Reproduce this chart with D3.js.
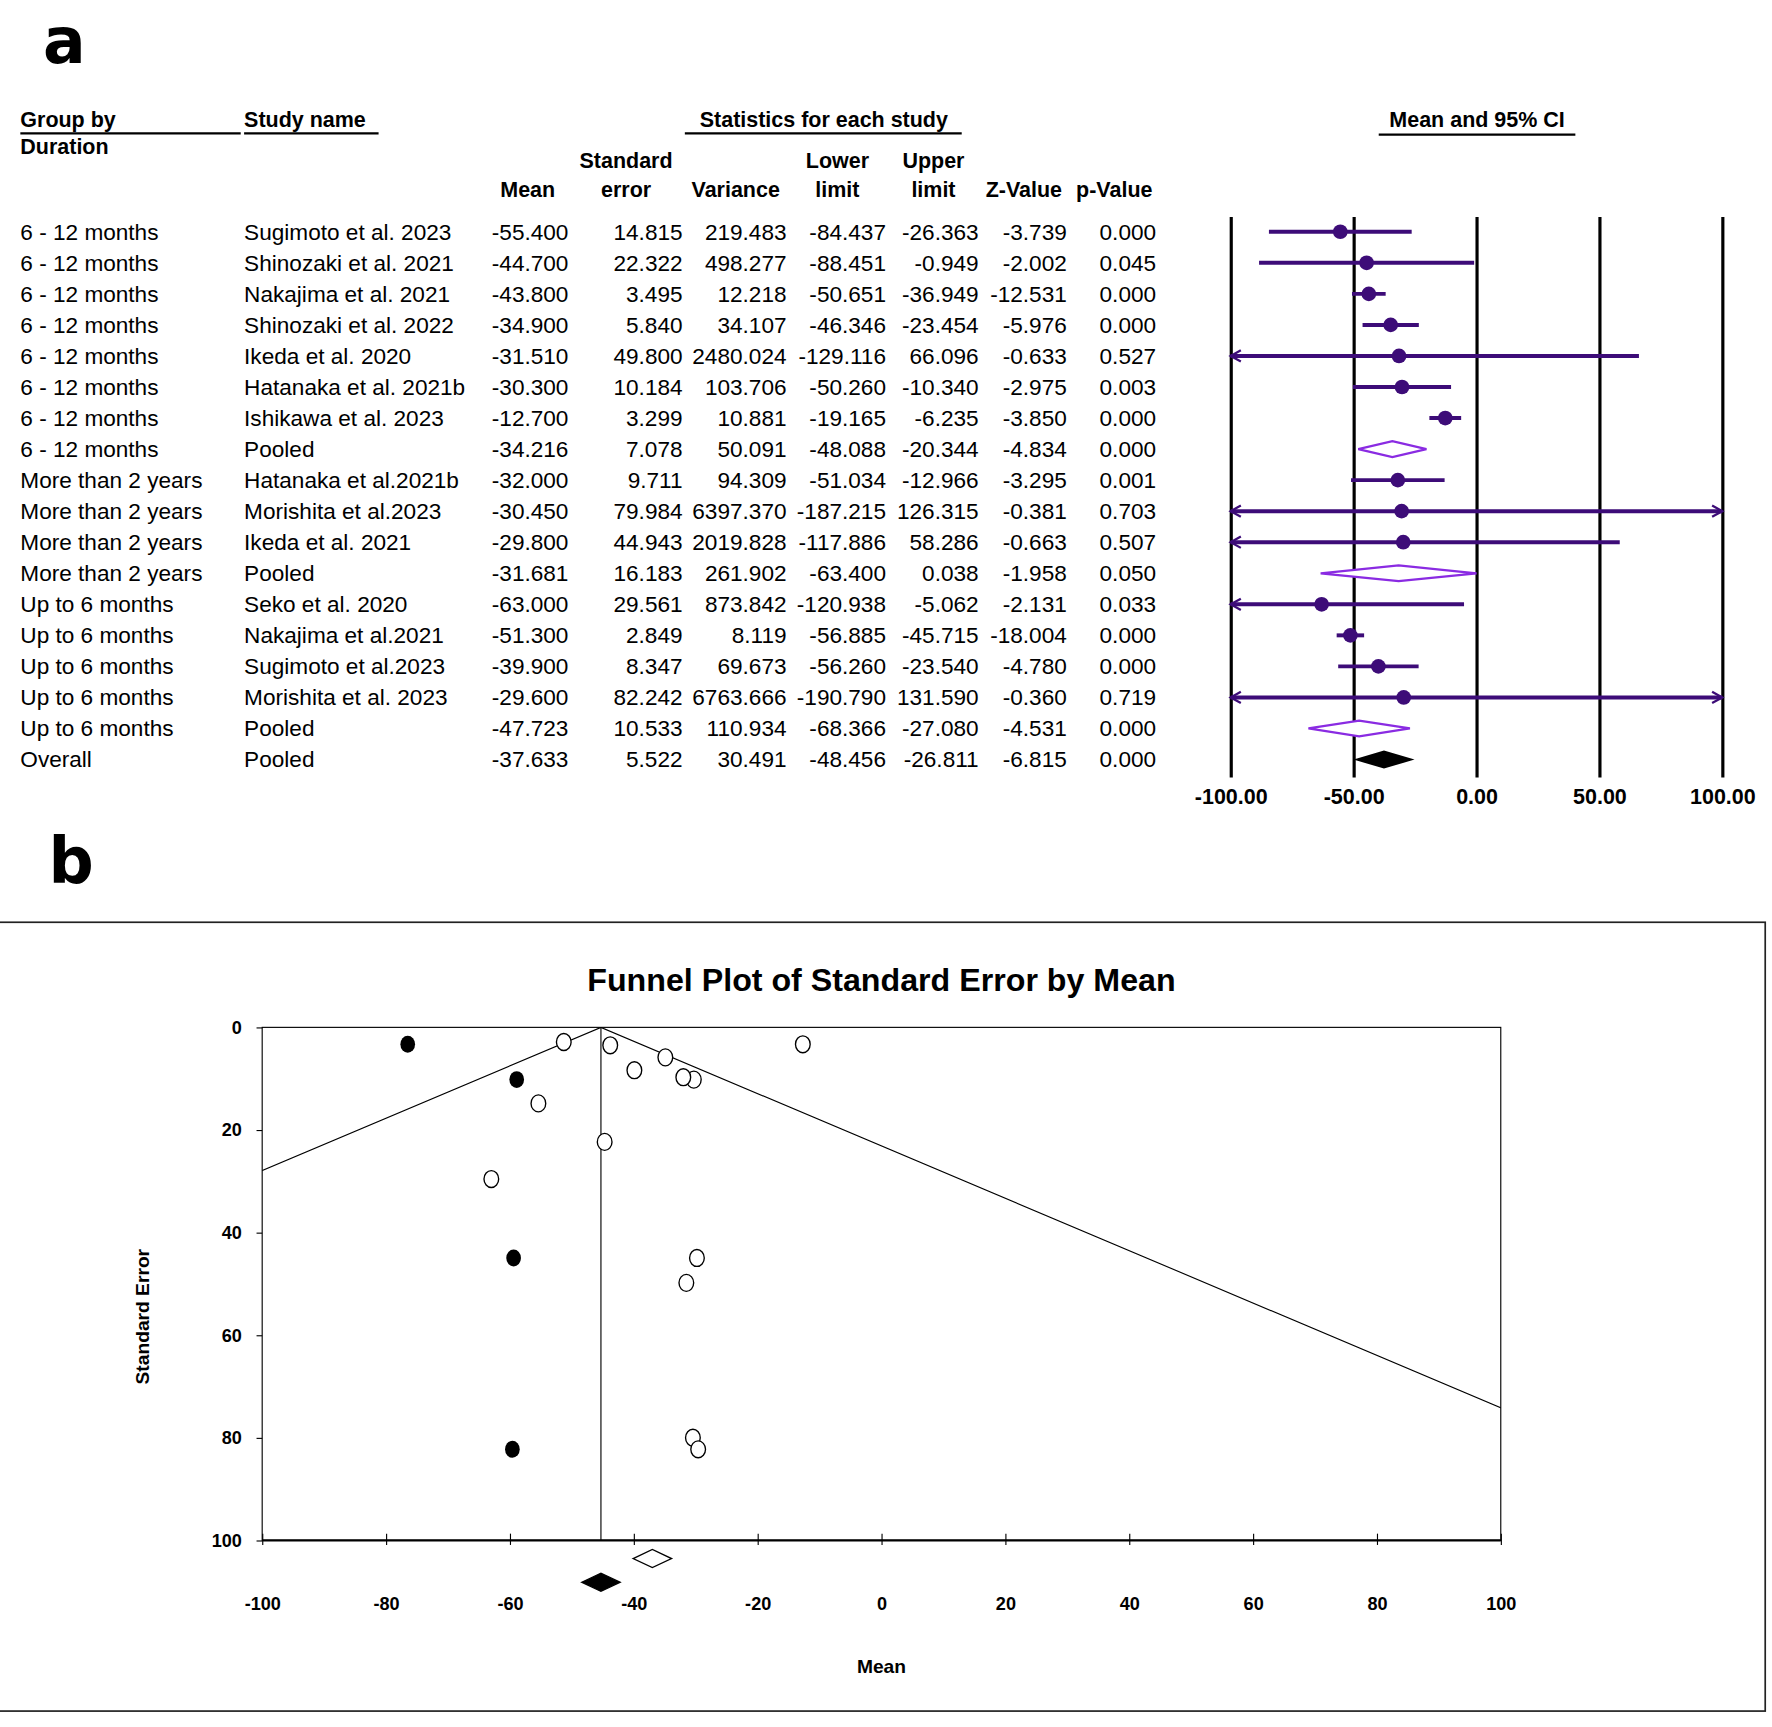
<!DOCTYPE html>
<html>
<head>
<meta charset="utf-8">
<script src="https://cdn.jsdelivr.net/npm/d3@7"></script>
<style>
body { margin: 0; background: #fff; }
svg { display: block; }
text { font-family: Arial, "Liberation Sans", sans-serif; }
</style>
</head>
<body>
<div id="chart"></div>
<script>
// Table rows of the forest plot (panel a)
var groups = ["6 - 12 months", "6 - 12 months", "6 - 12 months", "6 - 12 months", "6 - 12 months",
    "6 - 12 months", "6 - 12 months", "6 - 12 months", "More than 2 years", "More than 2 years",
    "More than 2 years", "More than 2 years", "Up to 6 months", "Up to 6 months", "Up to 6 months",
    "Up to 6 months", "Up to 6 months", "Overall"];
var studies = ["Sugimoto et al. 2023", "Shinozaki et al. 2021", "Nakajima et al. 2021", "Shinozaki et al. 2022",
    "Ikeda et al. 2020", "Hatanaka et al. 2021b", "Ishikawa et al. 2023", "Pooled", "Hatanaka et al.2021b",
    "Morishita et al.2023", "Ikeda et al. 2021", "Pooled", "Seko et al. 2020", "Nakajima et al.2021",
    "Sugimoto et al.2023", "Morishita et al. 2023", "Pooled", "Pooled"];
var means = [-55.4, -44.7, -43.8, -34.9, -31.51, -30.3, -12.7, -34.216, -32.0, -30.45, -29.8, -31.681,
    -63.0, -51.3, -39.9, -29.6, -47.723, -37.633];
var stdErr = [14.815, 22.322, 3.495, 5.840, 49.800, 10.184, 3.299, 7.078, 9.711, 79.984, 44.943, 16.183,
    29.561, 2.849, 8.347, 82.242, 10.533, 5.522];
var variances = [219.483, 498.277, 12.218, 34.107, 2480.024, 103.706, 10.881, 50.091, 94.309, 6397.370,
    2019.828, 261.902, 873.842, 8.119, 69.673, 6763.666, 110.934, 30.491];
var lowers = [-84.437, -88.451, -50.651, -46.346, -129.116, -50.260, -19.165, -48.088, -51.034, -187.215,
    -117.886, -63.400, -120.938, -56.885, -56.260, -190.790, -68.366, -48.456];
var uppers = [-26.363, -0.949, -36.949, -23.454, 66.096, -10.340, -6.235, -20.344, -12.966, 126.315,
    58.286, 0.038, -5.062, -45.715, -23.540, 131.590, -27.080, -26.811];
var zValues = [-3.739, -2.002, -12.531, -5.976, -0.633, -2.975, -3.850, -4.834, -3.295, -0.381, -0.663,
    -1.958, -2.131, -18.004, -4.780, -0.360, -4.531, -6.815];
var pValues = [0.000, 0.045, 0.000, 0.000, 0.527, 0.003, 0.000, 0.000, 0.001, 0.703, 0.507, 0.050,
    0.033, 0.000, 0.000, 0.719, 0.000, 0.000];
var forestTicks = [-100, -50, 0, 50, 100];

// Funnel plot (panel b): imputed studies from trim and fill
var imputedMeans = [-76.5, -58.9, -59.4, -59.6];
var imputedSE = [3.299, 10.184, 44.943, 82.242];
var observedPooled = -37.0;
var adjustedPooled = -45.3;
var funnelXTicks = [-100, -80, -60, -40, -20, 0, 20, 40, 60, 80, 100];
var funnelYTicks = [0, 20, 40, 60, 80, 100];

var purple = '#3d0c78', violet = '#8a2be2';

var svg = d3.select('#chart').append('svg')
    .attr('width', 1772).attr('height', 1727)
    .attr('viewBox', '0 0 1568 1528');

// ---------- panel a ----------
svg.append('text').attr('x', 38).attr('y', 56)
    .style('font-family', '"DejaVu Sans", sans-serif').attr('font-weight', 700)
    .attr('font-size', 56).text('a');

var head = svg.append('g').attr('font-weight', 'bold').attr('font-size', 19);
function headText(x, y, s, anchor) {
    head.append('text').attr('x', x).attr('y', y).attr('text-anchor', anchor || 'middle').text(s);
}
function headLine(x1, x2, y) {
    head.append('line').attr('x1', x1).attr('x2', x2).attr('y1', y).attr('y2', y)
        .attr('stroke', '#000').attr('stroke-width', 2);
}
headText(18, 112, 'Group by', 'start');
headText(18, 136, 'Duration', 'start');
headText(216, 112, 'Study name', 'start');
headText(729, 112, 'Statistics for each study');
headText(1307, 112, 'Mean and 95% CI');
headLine(18, 213, 118);
headLine(216, 335, 118);
headLine(606, 851, 118);
headLine(1220, 1394, 119);
var colCenters = [467, 554, 651, 741, 826, 906, 986];
var head1 = ['', 'Standard', '', 'Lower', 'Upper', '', ''];
var head2 = ['Mean', 'error', 'Variance', 'limit', 'limit', 'Z-Value', 'p-Value'];
colCenters.forEach(function(c, k) {
    if (head1[k]) headText(c, 149, head1[k]);
    headText(c, 174, head2[k]);
});

var row = d3.scaleLinear().domain([0, groups.length - 1]).range([205, 672]);
var colRights = [503, 604, 696, 784, 866, 944, 1023];
var cols = [means, stdErr, variances, lowers, uppers, zValues, pValues];

var body = svg.append('g').attr('font-size', 20);
groups.forEach(function(g, i) {
    var y = row(i) + 7;
    body.append('text').attr('x', 18).attr('y', y).text(g);
    body.append('text').attr('x', 216).attr('y', y).text(studies[i]);
    cols.forEach(function(arr, k) {
        body.append('text').attr('x', colRights[k]).attr('y', y)
            .attr('text-anchor', 'end').text(arr[i].toFixed(3));
    });
});

// forest axis with full-height grid lines
var fx = d3.scaleLinear().domain([-100, 100]).range([1089, 1524]);
var fAxis = svg.append('g').attr('transform', 'translate(0,192)')
    .call(d3.axisBottom(fx).tickValues(forestTicks).tickSize(496).tickPadding(10)
        .tickFormat(function(d) { return d.toFixed(2); }));
fAxis.select('.domain').remove();
fAxis.selectAll('.tick line').attr('stroke', '#000').attr('stroke-width', 2.8);
fAxis.selectAll('.tick text').attr('fill', '#000').attr('font-size', 19)
    .attr('font-weight', 'bold').style('font-family', 'Arial, "Liberation Sans", sans-serif');

var marks = svg.append('g');
groups.forEach(function(g, i) {
    var y = row(i);
    var lo = Math.max(lowers[i], -100), hi = Math.min(uppers[i], 100);
    if (studies[i] === 'Pooled') {
        var pts = [[fx(lowers[i]), y], [fx(means[i]), y - 7], [fx(uppers[i]), y], [fx(means[i]), y + 7]];
        var overall = g === 'Overall';
        marks.append('polygon').attr('points', pts.join(' '))
            .attr('fill', overall ? '#000' : '#fff')
            .attr('stroke', overall ? '#000' : violet).attr('stroke-width', 2);
        return;
    }
    marks.append('line').attr('x1', fx(lo)).attr('x2', fx(hi)).attr('y1', y).attr('y2', y)
        .attr('stroke', purple).attr('stroke-width', 3.5);
    marks.append('circle').attr('cx', fx(means[i])).attr('cy', y).attr('r', 6.5).attr('fill', purple);
    if (lowers[i] < -100) {
        marks.append('polyline').attr('fill', 'none').attr('stroke', purple).attr('stroke-width', 2)
            .attr('points', [[fx(-100) + 9, y - 5], [fx(-100), y], [fx(-100) + 9, y + 5]].join(' '));
    }
    if (uppers[i] > 100) {
        marks.append('polyline').attr('fill', 'none').attr('stroke', purple).attr('stroke-width', 2)
            .attr('points', [[fx(100) - 9, y - 5], [fx(100), y], [fx(100) - 9, y + 5]].join(' '));
    }
});

// ---------- panel b ----------
svg.append('text').attr('x', 43).attr('y', 781)
    .style('font-family', '"DejaVu Sans", sans-serif').attr('font-weight', 700)
    .attr('font-size', 56).text('b');
svg.append('rect').attr('x', -2).attr('y', 816).attr('width', 1564).attr('height', 698)
    .attr('fill', 'none').attr('stroke', '#222').attr('stroke-width', 1.5);
svg.append('text').attr('x', 780).attr('y', 877).attr('text-anchor', 'middle')
    .attr('font-weight', 'bold').attr('font-size', 28.5).text('Funnel Plot of Standard Error by Mean');

var bx = d3.scaleLinear().domain([-100, 100]).range([232, 1328]);
var by = d3.scaleLinear().domain([0, 100]).range([909, 1363]);

svg.append('defs').append('clipPath').attr('id', 'plotclip').append('rect')
    .attr('x', 232).attr('y', 909).attr('width', 1096).attr('height', 454);

var plot = svg.append('g');
plot.append('rect').attr('x', 232).attr('y', 909).attr('width', 1096).attr('height', 454)
    .attr('fill', 'none').attr('stroke', '#000').attr('stroke-width', 1);
plot.append('line').attr('x1', 232).attr('x2', 1328).attr('y1', 1363).attr('y2', 1363)
    .attr('stroke', '#000').attr('stroke-width', 2);

// funnel lines (95% limits) and adjusted mean line
var funnel = [[adjustedPooled - 1.96 * 100, 100], [adjustedPooled, 0], [adjustedPooled + 1.96 * 100, 100]];
plot.append('path').attr('clip-path', 'url(#plotclip)')
    .attr('d', d3.line().x(function(d) { return bx(d[0]); }).y(function(d) { return by(d[1]); })(funnel))
    .attr('fill', 'none').attr('stroke', '#000').attr('stroke-width', 1);
plot.append('line').attr('x1', bx(adjustedPooled)).attr('x2', bx(adjustedPooled))
    .attr('y1', by(0)).attr('y2', by(100)).attr('stroke', '#000').attr('stroke-width', 1);

var plain = function(d) { return String(d); };
var xAx = plot.append('g').attr('transform', 'translate(0,1363)')
    .call(d3.axisBottom(bx).tickValues(funnelXTicks).tickFormat(plain)
        .tickSizeInner(-6).tickSizeOuter(0).tickPadding(50));
var yAx = plot.append('g').attr('transform', 'translate(232,0)')
    .call(d3.axisLeft(by).tickValues(funnelYTicks).tickFormat(plain)
        .tickSizeInner(5).tickSizeOuter(0).tickPadding(13));
[xAx, yAx].forEach(function(a) {
    a.select('.domain').remove();
    a.selectAll('.tick line').attr('stroke', '#000');
    a.selectAll('.tick text').attr('fill', '#000').attr('font-size', 16).attr('font-weight', 'bold')
        .style('font-family', 'Arial, "Liberation Sans", sans-serif');
});
xAx.selectAll('.tick line').attr('y2', -6).attr('y1', 4);

svg.append('text').attr('x', 780).attr('y', 1480).attr('text-anchor', 'middle')
    .attr('font-weight', 'bold').attr('font-size', 17).text('Mean');
svg.append('text').attr('transform', 'translate(132,1165) rotate(-90)').attr('text-anchor', 'middle')
    .attr('font-weight', 'bold').attr('font-size', 17).text('Standard Error');

// observed studies (open) and imputed studies (filled)
groups.forEach(function(g, i) {
    if (studies[i] === 'Pooled') return;
    plot.append('ellipse').attr('cx', bx(means[i])).attr('cy', by(stdErr[i])).attr('rx', 6.5).attr('ry', 7.5)
        .attr('fill', '#fff').attr('stroke', '#000').attr('stroke-width', 1.2);
});
imputedMeans.forEach(function(m, i) {
    plot.append('ellipse').attr('cx', bx(m)).attr('cy', by(imputedSE[i])).attr('rx', 6.5).attr('ry', 7.5)
        .attr('fill', '#000');
});

function diamond(x, y, filled) {
    plot.append('polygon')
        .attr('points', [[x - 17, y], [x, y - 8], [x + 17, y], [x, y + 8]].join(' '))
        .attr('fill', filled ? '#000' : '#fff').attr('stroke', '#000').attr('stroke-width', 1.2);
}
diamond(bx(observedPooled), 1379, false);
diamond(bx(adjustedPooled), 1400, true);
</script>
</body>
</html>
